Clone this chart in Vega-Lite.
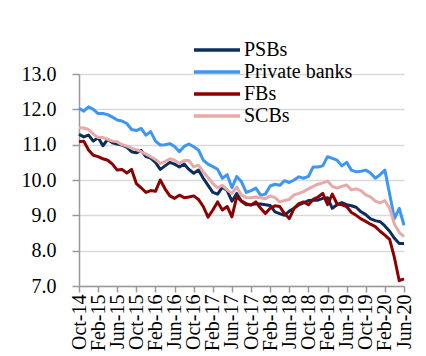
{
  "$schema": "https://vega.github.io/schema/vega-lite/v6.json",
  "width": 325,
  "height": 212,
  "autosize": {"type": "none"},
  "padding": {"left": 79, "top": 74, "right": 22, "bottom": 70},
  "background": "white",
  "config": {
    "font": "Liberation Serif",
    "axis": {"labelFont": "Liberation Serif"},
    "legend": {"labelFont": "Liberation Serif"},
    "view": {"stroke": null}
  },
  "title": {"text": "(%)", "anchor": "start", "frame": "group", "dx": 208, "offset": 60, "fontSize": 20, "font": "Liberation Serif", "fontWeight": "normal", "color": "black"},
  "data": {"values": [
    {"m":"Oct-14","b":"PSBs","v":11.29},{"m":"Nov-14","b":"PSBs","v":11.22},{"m":"Dec-14","b":"PSBs","v":11.27},{"m":"Jan-15","b":"PSBs","v":11.1},{"m":"Feb-15","b":"PSBs","v":11.2},{"m":"Mar-15","b":"PSBs","v":10.97},{"m":"Apr-15","b":"PSBs","v":11.15},{"m":"May-15","b":"PSBs","v":11.05},{"m":"Jun-15","b":"PSBs","v":11.02},{"m":"Jul-15","b":"PSBs","v":10.99},{"m":"Aug-15","b":"PSBs","v":10.93},{"m":"Sep-15","b":"PSBs","v":10.8},
    {"m":"Oct-15","b":"PSBs","v":10.77},{"m":"Nov-15","b":"PSBs","v":10.84},{"m":"Dec-15","b":"PSBs","v":10.66},{"m":"Jan-16","b":"PSBs","v":10.62},{"m":"Feb-16","b":"PSBs","v":10.5},{"m":"Mar-16","b":"PSBs","v":10.3},{"m":"Apr-16","b":"PSBs","v":10.4},{"m":"May-16","b":"PSBs","v":10.5},{"m":"Jun-16","b":"PSBs","v":10.45},{"m":"Jul-16","b":"PSBs","v":10.37},{"m":"Aug-16","b":"PSBs","v":10.45},{"m":"Sep-16","b":"PSBs","v":10.3},
    {"m":"Oct-16","b":"PSBs","v":10.19},{"m":"Nov-16","b":"PSBs","v":10.28},{"m":"Dec-16","b":"PSBs","v":10.05},{"m":"Jan-17","b":"PSBs","v":9.85},{"m":"Feb-17","b":"PSBs","v":9.65},{"m":"Mar-17","b":"PSBs","v":9.6},{"m":"Apr-17","b":"PSBs","v":9.8},{"m":"May-17","b":"PSBs","v":9.7},{"m":"Jun-17","b":"PSBs","v":9.4},{"m":"Jul-17","b":"PSBs","v":9.62},{"m":"Aug-17","b":"PSBs","v":9.4},{"m":"Sep-17","b":"PSBs","v":9.3},
    {"m":"Oct-17","b":"PSBs","v":9.3},{"m":"Nov-17","b":"PSBs","v":9.33},{"m":"Dec-17","b":"PSBs","v":9.32},{"m":"Jan-18","b":"PSBs","v":9.3},{"m":"Feb-18","b":"PSBs","v":9.28},{"m":"Mar-18","b":"PSBs","v":9.1},{"m":"Apr-18","b":"PSBs","v":9.05},{"m":"May-18","b":"PSBs","v":9.0},{"m":"Jun-18","b":"PSBs","v":9.12},{"m":"Jul-18","b":"PSBs","v":9.2},{"m":"Aug-18","b":"PSBs","v":9.3},{"m":"Sep-18","b":"PSBs","v":9.35},
    {"m":"Oct-18","b":"PSBs","v":9.42},{"m":"Nov-18","b":"PSBs","v":9.43},{"m":"Dec-18","b":"PSBs","v":9.43},{"m":"Jan-19","b":"PSBs","v":9.48},{"m":"Feb-19","b":"PSBs","v":9.5},{"m":"Mar-19","b":"PSBs","v":9.2},{"m":"Apr-19","b":"PSBs","v":9.3},{"m":"May-19","b":"PSBs","v":9.36},{"m":"Jun-19","b":"PSBs","v":9.3},{"m":"Jul-19","b":"PSBs","v":9.27},{"m":"Aug-19","b":"PSBs","v":9.23},{"m":"Sep-19","b":"PSBs","v":9.1},
    {"m":"Oct-19","b":"PSBs","v":9.02},{"m":"Nov-19","b":"PSBs","v":8.9},{"m":"Dec-19","b":"PSBs","v":8.85},{"m":"Jan-20","b":"PSBs","v":8.82},{"m":"Feb-20","b":"PSBs","v":8.7},{"m":"Mar-20","b":"PSBs","v":8.55},{"m":"Apr-20","b":"PSBs","v":8.35},{"m":"May-20","b":"PSBs","v":8.2},{"m":"Jun-20","b":"PSBs","v":8.2},

    {"m":"Oct-14","b":"Private banks","v":12.03},{"m":"Nov-14","b":"Private banks","v":11.95},{"m":"Dec-14","b":"Private banks","v":12.07},{"m":"Jan-15","b":"Private banks","v":12.0},{"m":"Feb-15","b":"Private banks","v":11.88},{"m":"Mar-15","b":"Private banks","v":11.88},{"m":"Apr-15","b":"Private banks","v":11.85},{"m":"May-15","b":"Private banks","v":11.78},{"m":"Jun-15","b":"Private banks","v":11.7},{"m":"Jul-15","b":"Private banks","v":11.67},{"m":"Aug-15","b":"Private banks","v":11.6},{"m":"Sep-15","b":"Private banks","v":11.43},
    {"m":"Oct-15","b":"Private banks","v":11.4},{"m":"Nov-15","b":"Private banks","v":11.46},{"m":"Dec-15","b":"Private banks","v":11.27},{"m":"Jan-16","b":"Private banks","v":11.37},{"m":"Feb-16","b":"Private banks","v":11.1},{"m":"Mar-16","b":"Private banks","v":10.99},{"m":"Apr-16","b":"Private banks","v":11.0},{"m":"May-16","b":"Private banks","v":11.03},{"m":"Jun-16","b":"Private banks","v":10.95},{"m":"Jul-16","b":"Private banks","v":10.8},{"m":"Aug-16","b":"Private banks","v":10.95},{"m":"Sep-16","b":"Private banks","v":11.02},
    {"m":"Oct-16","b":"Private banks","v":10.94},{"m":"Nov-16","b":"Private banks","v":10.85},{"m":"Dec-16","b":"Private banks","v":10.56},{"m":"Jan-17","b":"Private banks","v":10.45},{"m":"Feb-17","b":"Private banks","v":10.38},{"m":"Mar-17","b":"Private banks","v":10.3},{"m":"Apr-17","b":"Private banks","v":10.05},{"m":"May-17","b":"Private banks","v":10.15},{"m":"Jun-17","b":"Private banks","v":9.78},{"m":"Jul-17","b":"Private banks","v":10.1},{"m":"Aug-17","b":"Private banks","v":9.95},{"m":"Sep-17","b":"Private banks","v":9.65},
    {"m":"Oct-17","b":"Private banks","v":9.7},{"m":"Nov-17","b":"Private banks","v":9.77},{"m":"Dec-17","b":"Private banks","v":9.57},{"m":"Jan-18","b":"Private banks","v":9.6},{"m":"Feb-18","b":"Private banks","v":9.83},{"m":"Mar-18","b":"Private banks","v":9.88},{"m":"Apr-18","b":"Private banks","v":9.85},{"m":"May-18","b":"Private banks","v":9.98},{"m":"Jun-18","b":"Private banks","v":9.93},{"m":"Jul-18","b":"Private banks","v":10.0},{"m":"Aug-18","b":"Private banks","v":10.09},{"m":"Sep-18","b":"Private banks","v":10.05},
    {"m":"Oct-18","b":"Private banks","v":10.1},{"m":"Nov-18","b":"Private banks","v":10.37},{"m":"Dec-18","b":"Private banks","v":10.37},{"m":"Jan-19","b":"Private banks","v":10.4},{"m":"Feb-19","b":"Private banks","v":10.66},{"m":"Mar-19","b":"Private banks","v":10.61},{"m":"Apr-19","b":"Private banks","v":10.56},{"m":"May-19","b":"Private banks","v":10.4},{"m":"Jun-19","b":"Private banks","v":10.5},{"m":"Jul-19","b":"Private banks","v":10.28},{"m":"Aug-19","b":"Private banks","v":10.23},{"m":"Sep-19","b":"Private banks","v":10.25},
    {"m":"Oct-19","b":"Private banks","v":10.28},{"m":"Nov-19","b":"Private banks","v":10.2},{"m":"Dec-19","b":"Private banks","v":10.05},{"m":"Jan-20","b":"Private banks","v":10.15},{"m":"Feb-20","b":"Private banks","v":10.28},{"m":"Mar-20","b":"Private banks","v":9.6},{"m":"Apr-20","b":"Private banks","v":8.91},{"m":"May-20","b":"Private banks","v":9.2},{"m":"Jun-20","b":"Private banks","v":8.72},

    {"m":"Oct-14","b":"FBs","v":11.08},{"m":"Nov-14","b":"FBs","v":11.1},{"m":"Dec-14","b":"FBs","v":10.85},{"m":"Jan-15","b":"FBs","v":10.7},{"m":"Feb-15","b":"FBs","v":10.66},{"m":"Mar-15","b":"FBs","v":10.6},{"m":"Apr-15","b":"FBs","v":10.56},{"m":"May-15","b":"FBs","v":10.45},{"m":"Jun-15","b":"FBs","v":10.28},{"m":"Jul-15","b":"FBs","v":10.3},{"m":"Aug-15","b":"FBs","v":10.2},{"m":"Sep-15","b":"FBs","v":10.3},
    {"m":"Oct-15","b":"FBs","v":9.9},{"m":"Nov-15","b":"FBs","v":9.78},{"m":"Dec-15","b":"FBs","v":9.65},{"m":"Jan-16","b":"FBs","v":9.7},{"m":"Feb-16","b":"FBs","v":9.68},{"m":"Mar-16","b":"FBs","v":10.0},{"m":"Apr-16","b":"FBs","v":9.75},{"m":"May-16","b":"FBs","v":9.55},{"m":"Jun-16","b":"FBs","v":9.48},{"m":"Jul-16","b":"FBs","v":9.57},{"m":"Aug-16","b":"FBs","v":9.5},{"m":"Sep-16","b":"FBs","v":9.52},
    {"m":"Oct-16","b":"FBs","v":9.55},{"m":"Nov-16","b":"FBs","v":9.45},{"m":"Dec-16","b":"FBs","v":9.25},{"m":"Jan-17","b":"FBs","v":8.95},{"m":"Feb-17","b":"FBs","v":9.15},{"m":"Mar-17","b":"FBs","v":9.38},{"m":"Apr-17","b":"FBs","v":9.15},{"m":"May-17","b":"FBs","v":9.25},{"m":"Jun-17","b":"FBs","v":8.96},{"m":"Jul-17","b":"FBs","v":9.52},{"m":"Aug-17","b":"FBs","v":9.4},{"m":"Sep-17","b":"FBs","v":9.33},
    {"m":"Oct-17","b":"FBs","v":9.29},{"m":"Nov-17","b":"FBs","v":9.38},{"m":"Dec-17","b":"FBs","v":9.2},{"m":"Jan-18","b":"FBs","v":9.05},{"m":"Feb-18","b":"FBs","v":9.2},{"m":"Mar-18","b":"FBs","v":9.27},{"m":"Apr-18","b":"FBs","v":9.25},{"m":"May-18","b":"FBs","v":9.05},{"m":"Jun-18","b":"FBs","v":8.91},{"m":"Jul-18","b":"FBs","v":9.2},{"m":"Aug-18","b":"FBs","v":9.33},{"m":"Sep-18","b":"FBs","v":9.38},
    {"m":"Oct-18","b":"FBs","v":9.3},{"m":"Nov-18","b":"FBs","v":9.45},{"m":"Dec-18","b":"FBs","v":9.52},{"m":"Jan-19","b":"FBs","v":9.62},{"m":"Feb-19","b":"FBs","v":9.3},{"m":"Mar-19","b":"FBs","v":9.6},{"m":"Apr-19","b":"FBs","v":9.32},{"m":"May-19","b":"FBs","v":9.3},{"m":"Jun-19","b":"FBs","v":9.25},{"m":"Jul-19","b":"FBs","v":9.08},{"m":"Aug-19","b":"FBs","v":9.0},{"m":"Sep-19","b":"FBs","v":8.9},
    {"m":"Oct-19","b":"FBs","v":8.83},{"m":"Nov-19","b":"FBs","v":8.75},{"m":"Dec-19","b":"FBs","v":8.68},{"m":"Jan-20","b":"FBs","v":8.55},{"m":"Feb-20","b":"FBs","v":8.44},{"m":"Mar-20","b":"FBs","v":8.32},{"m":"Apr-20","b":"FBs","v":7.8},{"m":"May-20","b":"FBs","v":7.15},{"m":"Jun-20","b":"FBs","v":7.2},

    {"m":"Oct-14","b":"SCBs","v":11.48},{"m":"Nov-14","b":"SCBs","v":11.47},{"m":"Dec-14","b":"SCBs","v":11.43},{"m":"Jan-15","b":"SCBs","v":11.3},{"m":"Feb-15","b":"SCBs","v":11.2},{"m":"Mar-15","b":"SCBs","v":11.2},{"m":"Apr-15","b":"SCBs","v":11.15},{"m":"May-15","b":"SCBs","v":11.1},{"m":"Jun-15","b":"SCBs","v":11.08},{"m":"Jul-15","b":"SCBs","v":11.0},{"m":"Aug-15","b":"SCBs","v":10.96},{"m":"Sep-15","b":"SCBs","v":10.9},
    {"m":"Oct-15","b":"SCBs","v":10.86},{"m":"Nov-15","b":"SCBs","v":10.8},{"m":"Dec-15","b":"SCBs","v":10.73},{"m":"Jan-16","b":"SCBs","v":10.66},{"m":"Feb-16","b":"SCBs","v":10.58},{"m":"Mar-16","b":"SCBs","v":10.47},{"m":"Apr-16","b":"SCBs","v":10.52},{"m":"May-16","b":"SCBs","v":10.6},{"m":"Jun-16","b":"SCBs","v":10.56},{"m":"Jul-16","b":"SCBs","v":10.47},{"m":"Aug-16","b":"SCBs","v":10.55},{"m":"Sep-16","b":"SCBs","v":10.55},
    {"m":"Oct-16","b":"SCBs","v":10.37},{"m":"Nov-16","b":"SCBs","v":10.42},{"m":"Dec-16","b":"SCBs","v":10.23},{"m":"Jan-17","b":"SCBs","v":10.07},{"m":"Feb-17","b":"SCBs","v":9.9},{"m":"Mar-17","b":"SCBs","v":9.78},{"m":"Apr-17","b":"SCBs","v":9.85},{"m":"May-17","b":"SCBs","v":9.72},{"m":"Jun-17","b":"SCBs","v":9.62},{"m":"Jul-17","b":"SCBs","v":9.8},{"m":"Aug-17","b":"SCBs","v":9.57},{"m":"Sep-17","b":"SCBs","v":9.5},
    {"m":"Oct-17","b":"SCBs","v":9.5},{"m":"Nov-17","b":"SCBs","v":9.52},{"m":"Dec-17","b":"SCBs","v":9.5},{"m":"Jan-18","b":"SCBs","v":9.47},{"m":"Feb-18","b":"SCBs","v":9.55},{"m":"Mar-18","b":"SCBs","v":9.5},{"m":"Apr-18","b":"SCBs","v":9.38},{"m":"May-18","b":"SCBs","v":9.42},{"m":"Jun-18","b":"SCBs","v":9.45},{"m":"Jul-18","b":"SCBs","v":9.58},{"m":"Aug-18","b":"SCBs","v":9.62},{"m":"Sep-18","b":"SCBs","v":9.67},
    {"m":"Oct-18","b":"SCBs","v":9.75},{"m":"Nov-18","b":"SCBs","v":9.82},{"m":"Dec-18","b":"SCBs","v":9.88},{"m":"Jan-19","b":"SCBs","v":9.92},{"m":"Feb-19","b":"SCBs","v":9.97},{"m":"Mar-19","b":"SCBs","v":9.82},{"m":"Apr-19","b":"SCBs","v":9.77},{"m":"May-19","b":"SCBs","v":9.82},{"m":"Jun-19","b":"SCBs","v":9.86},{"m":"Jul-19","b":"SCBs","v":9.72},{"m":"Aug-19","b":"SCBs","v":9.75},{"m":"Sep-19","b":"SCBs","v":9.7},
    {"m":"Oct-19","b":"SCBs","v":9.58},{"m":"Nov-19","b":"SCBs","v":9.52},{"m":"Dec-19","b":"SCBs","v":9.4},{"m":"Jan-20","b":"SCBs","v":9.35},{"m":"Feb-20","b":"SCBs","v":9.42},{"m":"Mar-20","b":"SCBs","v":9.2},{"m":"Apr-20","b":"SCBs","v":8.75},{"m":"May-20","b":"SCBs","v":8.52},{"m":"Jun-20","b":"SCBs","v":8.4}
  ]},
  "mark": {"type": "line", "strokeWidth": 3, "interpolate": "linear", "strokeJoin": "round"},
  "encoding": {
    "x": {
      "field": "m", "type": "ordinal", "sort": null,
      "scale": {"type": "point", "padding": 0},
      "axis": {
        "title": null,
        "values": ["Oct-14","Feb-15","Jun-15","Oct-15","Feb-16","Jun-16","Oct-16","Feb-17","Jun-17","Oct-17","Feb-18","Jun-18","Oct-18","Feb-19","Jun-19","Oct-19","Feb-20","Jun-20"],
        "labelAngle": -90, "labelAlign": "right", "labelBaseline": "middle",
        "labelFont": "Liberation Serif", "labelFontSize": 20, "labelColor": "black", "labelPadding": 2,
        "domainColor": "#999999", "domainWidth": 1.5,
        "tickColor": "#999999", "tickSize": 6, "tickWidth": 1.5,
        "grid": false, "labelOverlap": false
      }
    },
    "y": {
      "field": "v", "type": "quantitative",
      "scale": {"domain": [7, 13], "zero": false, "nice": false},
      "axis": {
        "title": null, "values": [7, 8, 9, 10, 11, 12, 13], "format": ".1f",
        "labelFont": "Liberation Serif", "labelFontSize": 20, "labelColor": "black", "labelPadding": 16,
        "domainColor": "#999999", "domainWidth": 1.5,
        "tickColor": "#999999", "tickSize": 7, "tickWidth": 1.5,
        "grid": true, "gridColor": "#d9d9d9", "gridWidth": 1.5
      }
    },
    "color": {
      "field": "b", "type": "nominal",
      "scale": {"domain": ["PSBs", "Private banks", "FBs", "SCBs"], "range": ["#0b2f5c", "#3d96f2", "#8c0000", "#e8a9a9"]},
      "legend": {
        "title": null, "orient": "none", "legendX": 113, "legendY": -35,
        "symbolType": "stroke", "symbolSize": 2116, "symbolStrokeWidth": 3.5,
        "labelFont": "Liberation Serif", "labelFontSize": 20, "labelColor": "black", "labelOffset": 2,
        "clipHeight": 22, "rowPadding": 0, "labelLimit": 300
      }
    }
  }
}
